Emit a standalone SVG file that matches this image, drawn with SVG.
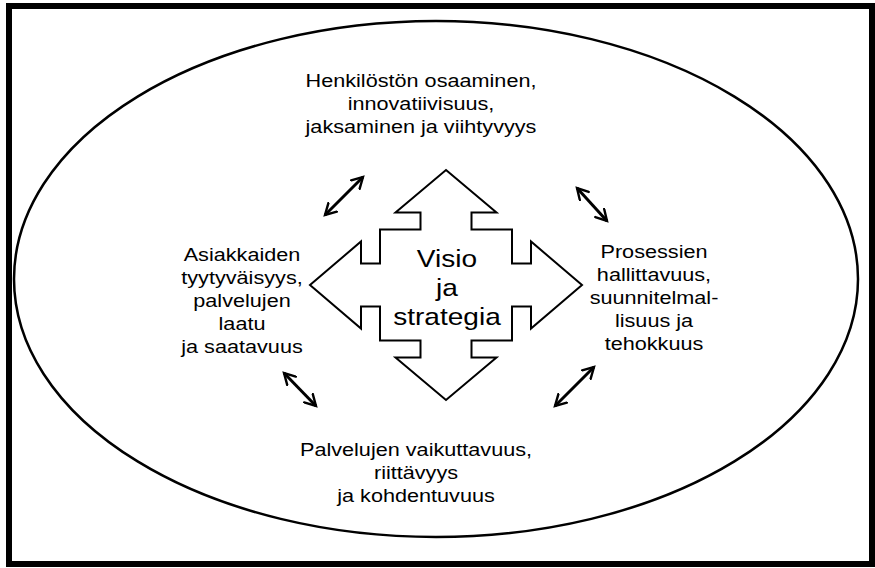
<svg xmlns="http://www.w3.org/2000/svg" width="875" height="568" viewBox="0 0 875 568">
  <style>
    .frame { fill: none; stroke: #000; stroke-width: 6; }
    .oval { fill: none; stroke: #000; stroke-width: 2.5; }
    .cross { fill: #fff; stroke: #000; stroke-width: 2; stroke-linejoin: miter; }
    .link { fill: none; stroke: #000; stroke-width: 3; marker-start: url(#tip); marker-end: url(#tip); }
    text { font-family: "Liberation Sans", Arial, sans-serif; fill: #000; text-anchor: middle; }
    .lbl { font-size: 18.5px; }
    .core { font-size: 24px; }
  </style>
  <defs>
    <marker id="tip" viewBox="0 0 12 12" refX="10" refY="6" markerWidth="4.8" markerHeight="4.8" orient="auto-start-reverse" markerUnits="strokeWidth">
      <path d="M1,1 L10,6 L1,11" fill="none" stroke="#000" stroke-width="2" stroke-linecap="round" stroke-linejoin="miter"/>
    </marker>
  </defs>

  <rect class="frame" x="9" y="6" width="863" height="558"/>
  <ellipse class="oval" cx="436" cy="279" rx="422" ry="258"/>

  <!-- central four-way arrow -->
  <g id="visio">
    <path class="cross" transform="translate(446,285)" d="M0,-115 L50.5,-72.5 L25.5,-72.5 L25.5,-55.5 L66,-55.5 L66,-21.5 L85,-21.5 L85,-43.5 L136,0 L85,43.5 L85,21.5 L66,21.5 L66,55.5 L25.5,55.5 L25.5,72.5 L50.5,72.5 L0,115 L-50.5,72.5 L-25.5,72.5 L-25.5,55.5 L-66,55.5 L-66,21.5 L-85,21.5 L-85,43.5 L-136,0 L-85,-43.5 L-85,-21.5 L-66,-21.5 L-66,-55.5 L-25.5,-55.5 L-25.5,-72.5 L-50.5,-72.5 Z"/>
    <g transform="translate(447,0) scale(1.17,1)">
      <text class="core" x="0" y="267">Visio</text>
      <text class="core" x="0" y="296">ja</text>
      <text class="core" x="0" y="325">strategia</text>
    </g>
  </g>

  <g id="henkilosto" transform="translate(421,0) scale(1.17,1)">
    <text class="lbl" x="0" y="87">Henkilöstön osaaminen,</text>
    <text class="lbl" x="0" y="110">innovatiivisuus,</text>
    <text class="lbl" x="0" y="133">jaksaminen ja viihtyvyys</text>
  </g>

  <g id="asiakkaat" transform="translate(242,0) scale(1.17,1)">
    <text class="lbl" x="0" y="261">Asiakkaiden</text>
    <text class="lbl" x="0" y="284">tyytyväisyys,</text>
    <text class="lbl" x="0" y="307">palvelujen</text>
    <text class="lbl" x="0" y="330">laatu</text>
    <text class="lbl" x="0" y="353">ja saatavuus</text>
  </g>

  <g id="prosessit" transform="translate(654,0) scale(1.17,1)">
    <text class="lbl" x="0" y="258">Prosessien</text>
    <text class="lbl" x="0" y="281">hallittavuus,</text>
    <text class="lbl" x="0" y="304">suunnitelmal-</text>
    <text class="lbl" x="0" y="327">lisuus ja</text>
    <text class="lbl" x="0" y="350">tehokkuus</text>
  </g>

  <g id="palvelut" transform="translate(416,0) scale(1.17,1)">
    <text class="lbl" x="0" y="456">Palvelujen vaikuttavuus,</text>
    <text class="lbl" x="0" y="479">riittävyys</text>
    <text class="lbl" x="0" y="502">ja kohdentuvuus</text>
  </g>

  <!-- two-way links between the perspectives -->
  <g id="links">
    <line class="link" x1="325" y1="215" x2="363" y2="177"/>
    <line class="link" x1="577" y1="188" x2="607" y2="221"/>
    <line class="link" x1="284" y1="373" x2="316" y2="406"/>
    <line class="link" x1="555" y1="406" x2="594" y2="367"/>
  </g>
</svg>
